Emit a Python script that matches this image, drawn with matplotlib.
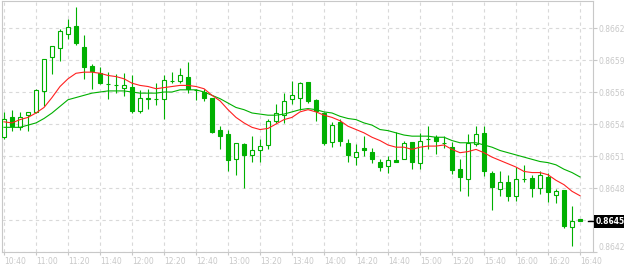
import numpy as np
import matplotlib
matplotlib.use("Agg")
import matplotlib.pyplot as plt
from matplotlib.patches import Rectangle
from matplotlib.transforms import blended_transform_factory

# 5 minute bars, 10:40 .. 16:40
opens = [0.86524, 0.86542, 0.86533, 0.86544, 0.86547, 0.86566, 0.86597, 0.86605, 0.86618, 0.86625,
         0.86606, 0.86589, 0.86582, 0.86572, 0.86571, 0.86569, 0.86570, 0.86548, 0.86560, 0.86559,
         0.86559, 0.86575, 0.86575, 0.86579, 0.86567, 0.86565, 0.86560, 0.86531, 0.86527, 0.86504,
         0.86518, 0.86508, 0.86512, 0.86517, 0.86539, 0.86544, 0.86559, 0.86560, 0.86574, 0.86558,
         0.86546, 0.86520, 0.86538, 0.86519, 0.86506, 0.86514, 0.86511, 0.86502, 0.86498, 0.86503,
         0.86504, 0.86520, 0.86501, 0.86522, 0.86524, 0.86519, 0.86515, 0.86495, 0.86486, 0.86518,
         0.86528, 0.86492, 0.86477, 0.86483, 0.86471, 0.86486, 0.86487, 0.86478, 0.86488, 0.86472,
         0.86476, 0.86443, 0.86450]
highs = [0.86547, 0.86549, 0.86547, 0.86547, 0.86568, 0.86595, 0.86607, 0.86622, 0.86631, 0.86642,
         0.86617, 0.86590, 0.86588, 0.86583, 0.86581, 0.86582, 0.86580, 0.86567, 0.86568, 0.86573,
         0.86580, 0.86583, 0.86587, 0.86592, 0.86568, 0.86568, 0.86560, 0.86534, 0.86531, 0.86519,
         0.86519, 0.86525, 0.86522, 0.86541, 0.86554, 0.86564, 0.86575, 0.86574, 0.86574, 0.86559,
         0.86547, 0.86538, 0.86541, 0.86522, 0.86518, 0.86525, 0.86514, 0.86504, 0.86507, 0.86529,
         0.86521, 0.86520, 0.86528, 0.86534, 0.86526, 0.86525, 0.86520, 0.86504, 0.86527, 0.86534,
         0.86534, 0.86493, 0.86493, 0.86490, 0.86497, 0.86499, 0.86490, 0.86493, 0.86492, 0.86477,
         0.86476, 0.86462, 0.86450]
lows = [0.86522, 0.86530, 0.86531, 0.86530, 0.86546, 0.86552, 0.86581, 0.86593, 0.86613, 0.86608,
        0.86577, 0.86568, 0.86572, 0.86559, 0.86564, 0.86561, 0.86546, 0.86546, 0.86550, 0.86553,
        0.86541, 0.86573, 0.86573, 0.86564, 0.86558, 0.86557, 0.86528, 0.86513, 0.86493, 0.86490,
        0.86478, 0.86502, 0.86502, 0.86513, 0.86537, 0.86537, 0.86554, 0.86549, 0.86555, 0.86539,
        0.86517, 0.86515, 0.86516, 0.86502, 0.86499, 0.86507, 0.86501, 0.86493, 0.86492, 0.86502,
        0.86504, 0.86495, 0.86495, 0.86513, 0.86509, 0.86514, 0.86491, 0.86475, 0.86471, 0.86516,
        0.86489, 0.86458, 0.86471, 0.86466, 0.86466, 0.86483, 0.86470, 0.86473, 0.86465, 0.86464,
        0.86442, 0.86425, 0.86448]
closes = [0.86541, 0.86534, 0.86542, 0.86547, 0.86567, 0.86595, 0.86607, 0.86620, 0.86624, 0.86609,
          0.86588, 0.86584, 0.86573, 0.86572, 0.86571, 0.86571, 0.86548, 0.86560, 0.86559, 0.86559,
          0.86576, 0.86575, 0.86580, 0.86568, 0.86567, 0.86560, 0.86529, 0.86525, 0.86503, 0.86519,
          0.86508, 0.86512, 0.86516, 0.86539, 0.86546, 0.86557, 0.86562, 0.86573, 0.86557, 0.86548,
          0.86519, 0.86535, 0.86521, 0.86508, 0.86511, 0.86512, 0.86504, 0.86497, 0.86503, 0.86502,
          0.86519, 0.86502, 0.86521, 0.86522, 0.86521, 0.86519, 0.86494, 0.86488, 0.86519, 0.86527,
          0.86493, 0.86479, 0.86483, 0.86471, 0.86486, 0.86486, 0.86478, 0.86490, 0.86474, 0.86475,
          0.86444, 0.86448, 0.86448]

# moving averages
ma_fast = [0.86538, 0.86537, 0.86540, 0.86542, 0.86546, 0.86551, 0.86560, 0.86570, 0.86577, 0.86582,
           0.86583, 0.86583, 0.86582, 0.86580, 0.86579, 0.86577, 0.86573, 0.86571, 0.86570, 0.86568,
           0.86569, 0.86570, 0.86571, 0.86571, 0.86570, 0.86568, 0.86562, 0.86557, 0.86549, 0.86542,
           0.86537, 0.86533, 0.86531, 0.86532, 0.86536, 0.86540, 0.86542, 0.86547, 0.86549, 0.86547,
           0.86544, 0.86542, 0.86539, 0.86534, 0.86531, 0.86528, 0.86524, 0.86521, 0.86517, 0.86515,
           0.86515, 0.86513, 0.86515, 0.86516, 0.86516, 0.86517, 0.86513, 0.86510, 0.86511, 0.86513,
           0.86510, 0.86506, 0.86503, 0.86500, 0.86497, 0.86493, 0.86492, 0.86492, 0.86490, 0.86485,
           0.86481, 0.86475, 0.86471]
ma_slow = [0.86533, 0.86533, 0.86533, 0.86535, 0.86537, 0.86541, 0.86546, 0.86552, 0.86558, 0.86560,
           0.86562, 0.86564, 0.86565, 0.86566, 0.86566, 0.86566, 0.86565, 0.86564, 0.86564, 0.86564,
           0.86565, 0.86565, 0.86567, 0.86567, 0.86567, 0.86565, 0.86562, 0.86559, 0.86555, 0.86551,
           0.86549, 0.86546, 0.86545, 0.86544, 0.86544, 0.86545, 0.86547, 0.86549, 0.86550, 0.86549,
           0.86547, 0.86546, 0.86543, 0.86541, 0.86540, 0.86537, 0.86535, 0.86531, 0.86530, 0.86528,
           0.86526, 0.86525, 0.86525, 0.86525, 0.86524, 0.86524, 0.86521, 0.86519, 0.86519, 0.86519,
           0.86517, 0.86515, 0.86512, 0.86510, 0.86508, 0.86506, 0.86504, 0.86502, 0.86501, 0.86499,
           0.86495, 0.86492, 0.86488]

time_labels = ["10:40", "11:00", "11:20", "11:40", "12:00", "12:20", "12:40", "13:00", "13:20", "13:40",
               "14:00", "14:20", "14:40", "15:00", "15:20", "15:40", "16:00", "16:20", "16:40"]
price_ticks = [0.86420, 0.86449, 0.86478, 0.86507, 0.86536, 0.86565, 0.86594, 0.86623]
price_labels = ["0.8642", "0.8645", "0.8648", "0.8651", "0.8654", "0.8656", "0.8659", "0.8662"]

green = "#00b000"
red = "#ff2020"
grey = "#c8c8c8"

fig = plt.figure(figsize=(6.24, 2.66), dpi=100)
ax = fig.add_axes([2 / 624, 14 / 266, 590.5 / 624, 251 / 266])
ax.set_xlim(-0.25, 73.56)
ax.set_ylim(0.86420, 0.866475)

idx = np.arange(len(opens))
for x, o, h, l, c in zip(idx, opens, highs, lows, closes):
    ax.vlines(x, l, h, color=green, lw=0.8, zorder=2)
    face = "white" if c >= o else green
    ax.add_patch(Rectangle((x - 0.25, min(o, c)), 0.5, abs(c - o),
                           facecolor=face, edgecolor=green, lw=0.8, zorder=3))

ax.plot(idx, ma_slow, color=green, lw=0.8, zorder=4)
ax.plot(idx, ma_fast, color=red, lw=0.8, zorder=4)

last = closes[-1]
last_text = f"{last:.4f}"

ax.set_xticks(idx[::4])
ax.set_xticklabels(time_labels)
for lab in ax.get_xticklabels():
    lab.set_ha("left")
ax.yaxis.tick_right()
ax.set_yticks(price_ticks)
# the grey label under the current price box is hidden by it
ax.set_yticklabels(["" if t == last_text else t for t in price_labels])
ax.get_yticklabels()[0].set_va("bottom")
ax.tick_params(axis="both", colors=grey, labelsize=5.5, length=3, width=0.8, pad=1.5)
ax.tick_params(axis="x", length=2)

ax.grid(True, color="#d9d9d9", linestyle=(0, (3, 3)), linewidth=0.8)
ax.set_axisbelow(True)
for sp in ax.spines.values():
    sp.set_color(grey)
    sp.set_linewidth(0.8)

# last price marker
tr = blended_transform_factory(ax.transAxes, ax.transData)
ax.plot([0.993, 1.004], [last, last], color="black", lw=1, transform=tr, clip_on=False, zorder=6)
ax.text(1.005, last, last_text, transform=tr, color="white", fontsize=5.5, fontweight="bold",
        va="center", ha="left", clip_on=False, zorder=7,
        bbox=dict(boxstyle="square,pad=0.25", fc="black", ec="none"))

fig.savefig("out.png", dpi=100)
